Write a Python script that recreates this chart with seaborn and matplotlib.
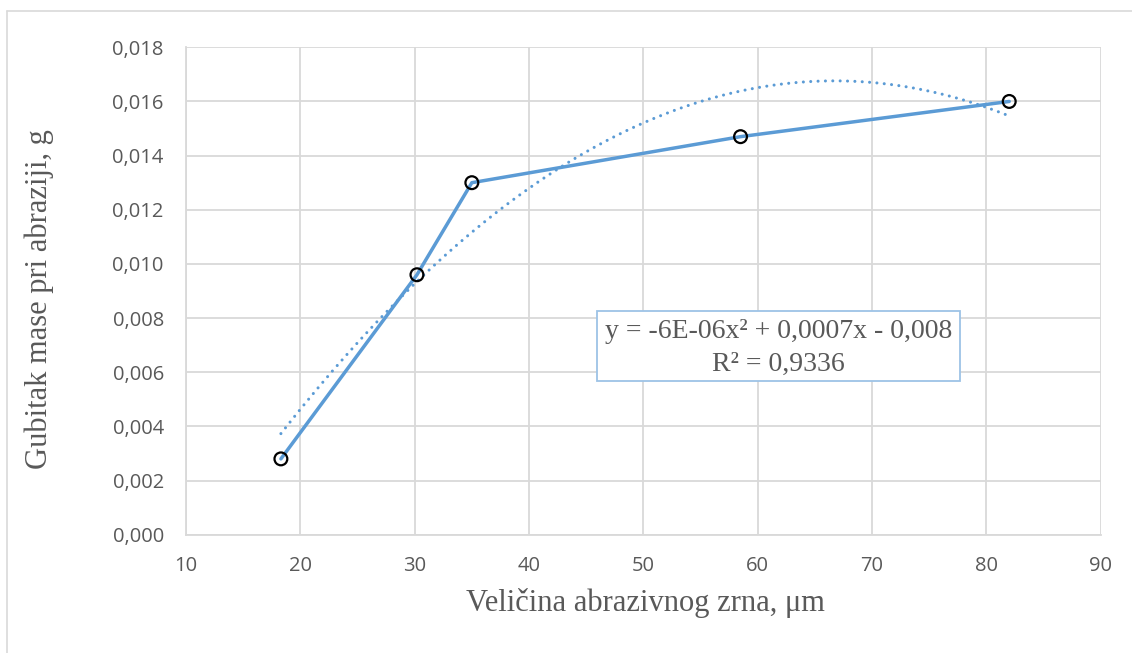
import matplotlib
matplotlib.use("Agg")
import matplotlib.pyplot as plt
from matplotlib.ticker import FuncFormatter, MultipleLocator
from matplotlib.patches import Rectangle
from matplotlib.lines import Line2D
import seaborn as sns
import pandas as pd

# ---- data ----
grain_size = [18.3, 30.2, 35.0, 58.5, 82.0]          # µm
mass_loss = [0.0028, 0.0096, 0.0130, 0.0147, 0.0160]  # g
x_label = "Veličina abrazivnog zrna, μm"
y_label = "Gubitak mase pri abraziji, g"
eq_line1 = "y = -6E-06x² + 0,0007x - 0,008"
eq_line2 = "R² = 0,9336"

df = pd.DataFrame({"x": grain_size, "y": mass_loss})

sns.set_theme(style="white")
W, H = 1132, 653
fig = plt.figure(figsize=(W / 100, H / 100), dpi=100)
ax = fig.add_axes([186 / W, 1 - 534.7 / H, (1100.7 - 186) / W, (534.7 - 47.3) / H])

blue = "#5B9BD5"
grid_c = "#D9D9D9"
text_c = "#595959"

# polynomial (order 2) trendline, dotted
sns.regplot(data=df, x="x", y="y", order=2, ci=None, scatter=False, truncate=True,
            ax=ax, color=blue,
            line_kws=dict(lw=2.2, linestyle=(0, (0.01, 2.4)), dash_capstyle="round", zorder=3))
# main line
sns.lineplot(data=df, x="x", y="y", sort=False, ax=ax, color=blue, lw=2.5,
             solid_capstyle="round", zorder=4)
# open markers
sns.scatterplot(data=df, x="x", y="y", ax=ax, s=85, facecolor="none",
                edgecolor="black", linewidth=1.6, zorder=5)

ax.set_xlim(10, 90)
ax.set_ylim(0, 0.018)
ax.xaxis.set_major_locator(MultipleLocator(10))
ax.yaxis.set_major_locator(MultipleLocator(0.002))
ax.yaxis.set_major_formatter(FuncFormatter(lambda v, p: f"{v:.3f}".replace(".", ",")))
ax.grid(True, color=grid_c, lw=1.3)
ax.set_axisbelow(True)
for s in ["top", "right"]:
    ax.spines[s].set_visible(False)
for s in ["left", "bottom"]:
    ax.spines[s].set_color(grid_c)
    ax.spines[s].set_linewidth(1.3)
ax.tick_params(axis="both", length=0, labelsize=14.5, labelcolor=text_c)
ax.tick_params(axis="x", pad=15)
ax.tick_params(axis="y", pad=16)
for lab in ax.get_xticklabels() + ax.get_yticklabels():
    lab.set_fontfamily("Open Sans")

ax.set_xlabel("")
ax.set_ylabel("")
fig.text(645 / W, 1 - 603 / H, x_label, ha="center", va="center",
         fontsize=22, color=text_c, family="Liberation Serif")
fig.text(39 / W, 1 - 299 / H, y_label, ha="center", va="center", rotation=90,
         fontsize=22, color=text_c, family="Liberation Serif")

# equation box
fig.patches.append(Rectangle((597 / W, 1 - 381 / H), (960 - 597) / W, (381 - 311) / H,
                             transform=fig.transFigure, facecolor="white",
                             edgecolor="#9DC3E6", lw=1.3, zorder=10))
fig.text(778.5 / W, 1 - 331 / H, eq_line1, ha="center", va="center", fontsize=20,
         color=text_c, family="Liberation Serif", zorder=11)
fig.text(778.5 / W, 1 - 364 / H, eq_line2, ha="center", va="center", fontsize=20,
         color=text_c, family="Liberation Serif", zorder=11)

# outer chart frame
fig.lines.append(Line2D([7 / W, 1.0], [1 - 10.7 / H] * 2, transform=fig.transFigure,
                        color=grid_c, lw=1.2))
fig.lines.append(Line2D([7 / W] * 2, [0.0, 1 - 10.7 / H], transform=fig.transFigure,
                        color=grid_c, lw=1.2))

fig.savefig("out.png", dpi=100, facecolor="white")
